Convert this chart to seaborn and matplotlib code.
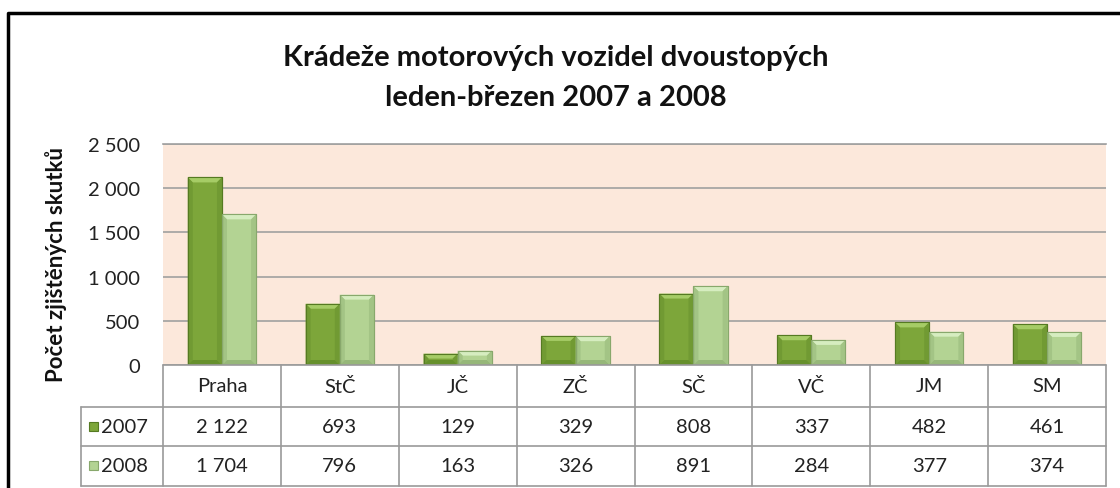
import matplotlib
matplotlib.use("Agg")
import matplotlib.pyplot as plt
import seaborn as sns
import pandas as pd
import numpy as np
from matplotlib.patches import Rectangle, Polygon
from matplotlib.ticker import FuncFormatter, MultipleLocator

sns.set_style("white")
plt.rcParams['font.family'] = ['Lato', 'DejaVu Sans']

# ---- data ----
regions = ["Praha", "StČ", "JČ", "ZČ", "SČ", "VČ", "JM", "SM"]
years = ["2007", "2008"]
values_2007 = [2122, 693, 129, 329, 808, 337, 482, 461]
values_2008 = [1704, 796, 163, 326, 891, 284, 377, 374]
title = "Krádeže motorových vozidel dvoustopých\nleden-březen 2007 a 2008"
ylabel = "Počet zjištěných skutků"

colors = {"2007": "#7da63a", "2008": "#b3d393"}
light = {"2007": "#a6cc66", "2008": "#d6edc0"}
side = {"2007": "#719a33", "2008": "#a3c485"}
bottom = {"2007": "#66902c", "2008": "#96b779"}
dark = {"2007": "#557a22", "2008": "#88a86c"}

df = pd.DataFrame({
    "region": regions * 2,
    "year": [years[0]] * len(regions) + [years[1]] * len(regions),
    "value": values_2007 + values_2008,
})

def fmt(v):
    return f"{int(v):,}".replace(",", " ")

W, H = 1120, 489
fig = plt.figure(figsize=(W / 100, H / 100), dpi=100)
fig.patch.set_facecolor("white")

def px(x0, y0, x1, y1):
    return [x0 / W, 1 - y1 / H, (x1 - x0) / W, (y1 - y0) / H]

ax_l, ax_t, ax_r, ax_b = 163, 145, 1106, 366
ax = fig.add_axes(px(ax_l, ax_t, ax_r, ax_b))
ax.set_facecolor("#fce8db")

sns.barplot(data=df, x="region", y="value", hue="year", order=regions,
            hue_order=years, palette=colors, width=0.58, ax=ax,
            legend=False, saturation=1, linewidth=0)

ax.set_ylim(0, 2500)
ax.set_xlim(-0.5, len(regions) - 0.5)

# bevel effect derived from each bar's geometry
col_w = (ax_r - ax_l) / len(regions)
dx = 5 / col_w                       # ~5 px horizontally
dy = 5 * 2500 / (ax_b - ax_t)        # ~5 px vertically
for cont, yr in zip(ax.containers, years):
    for b in cont:
        b.set_zorder(3)
        b.set_edgecolor(dark[yr])
        b.set_linewidth(0.8)
        x0, y0 = b.get_x(), b.get_y()
        x1, y1 = x0 + b.get_width(), y0 + b.get_height()
        h = min(dy, (y1 - y0) / 2)
        polys = [
            ([(x0, y1), (x1, y1), (x1 - dx, y1 - h), (x0 + dx, y1 - h)], light[yr]),
            ([(x0, y0), (x0, y1), (x0 + dx, y1 - h), (x0 + dx, y0 + h)], side[yr]),
            ([(x1, y0), (x1, y1), (x1 - dx, y1 - h), (x1 - dx, y0 + h)], side[yr]),
            ([(x0, y0), (x1, y0), (x1 - dx, y0 + h), (x0 + dx, y0 + h)], bottom[yr]),
        ]
        for pts, c in polys:
            ax.add_patch(Polygon(pts, closed=True, facecolor=c, edgecolor="none", zorder=3.5))
        ax.add_patch(Rectangle((x0, y0), x1 - x0, y1 - y0, facecolor="none",
                               edgecolor=dark[yr], lw=0.8, zorder=3.6))

ax.yaxis.set_major_locator(MultipleLocator(500))
ax.yaxis.set_major_formatter(FuncFormatter(lambda v, p: fmt(v)))
ax.grid(axis="y", color="#a0a0a0", linewidth=1.2, zorder=0)
ax.set_axisbelow(True)
ax.tick_params(axis="y", length=0, labelsize=14.5, pad=16.5, colors="#222222")
ax.tick_params(axis="x", length=0, labelbottom=False)
ax.set_xlabel("")
ax.set_ylabel("")
for s in ["left", "right", "bottom"]:
    ax.spines[s].set_visible(False)
ax.spines["top"].set_color("#a0a0a0")
ax.spines["top"].set_linewidth(1.2)

# ---- data table beneath ----
tc = "#9a9a9a"
rows_y = [366, 408, 447, 487]
x_left_tab = 81
fig.add_artist(plt.Line2D([ax_l / W, ax_r / W], [1 - 366 / H] * 2, color=tc, lw=1.2))
for y in rows_y[1:]:
    fig.add_artist(plt.Line2D([x_left_tab / W, ax_r / W], [1 - y / H] * 2, color=tc, lw=1.2))
for i in range(len(regions) + 1):
    x = ax_l + i * col_w
    fig.add_artist(plt.Line2D([x / W] * 2, [1 - 366 / H, 1 - 487 / H], color=tc, lw=1.2))
fig.add_artist(plt.Line2D([x_left_tab / W] * 2, [1 - 408 / H, 1 - 487 / H], color=tc, lw=1.2))

fs = 14.5
for i, r in enumerate(regions):
    xc = (ax_l + (i + 0.5) * col_w) / W
    fig.text(xc, 1 - 387 / H, r, ha="center", va="center", fontsize=fs, color="#222222")
    fig.text(xc, 1 - 428 / H, fmt(values_2007[i]), ha="center", va="center", fontsize=fs, color="#222222")
    fig.text(xc, 1 - 467 / H, fmt(values_2008[i]), ha="center", va="center", fontsize=fs, color="#222222")

for yr, yc in zip(years, [428, 467]):
    fig.add_artist(Rectangle((89 / W, 1 - (yc + 4) / H), 9 / W, 9 / H,
                             transform=fig.transFigure, facecolor=colors[yr],
                             edgecolor=dark[yr], lw=0.8))
    fig.text(101 / W, 1 - yc / H, yr, ha="left", va="center", fontsize=fs, color="#222222")

# ---- titles ----
fig.text(556 / W, 1 - 58 / H, title.split("\n")[0], ha="center", va="center",
         fontsize=21, fontweight="bold", color="#111111")
fig.text(556 / W, 1 - 98 / H, title.split("\n")[1], ha="center", va="center",
         fontsize=21, fontweight="bold", color="#111111")
fig.text(56 / W, 1 - 264 / H, ylabel, ha="center", va="center", rotation=90,
         fontsize=16, fontweight="bold", color="#111111")

# ---- frame ----
fig.add_artist(plt.Line2D([8 / W, 8 / W, 1], [0, 1 - 14 / H, 1 - 14 / H],
                          color="black", lw=2.5))

fig.savefig("out.png", dpi=100)
